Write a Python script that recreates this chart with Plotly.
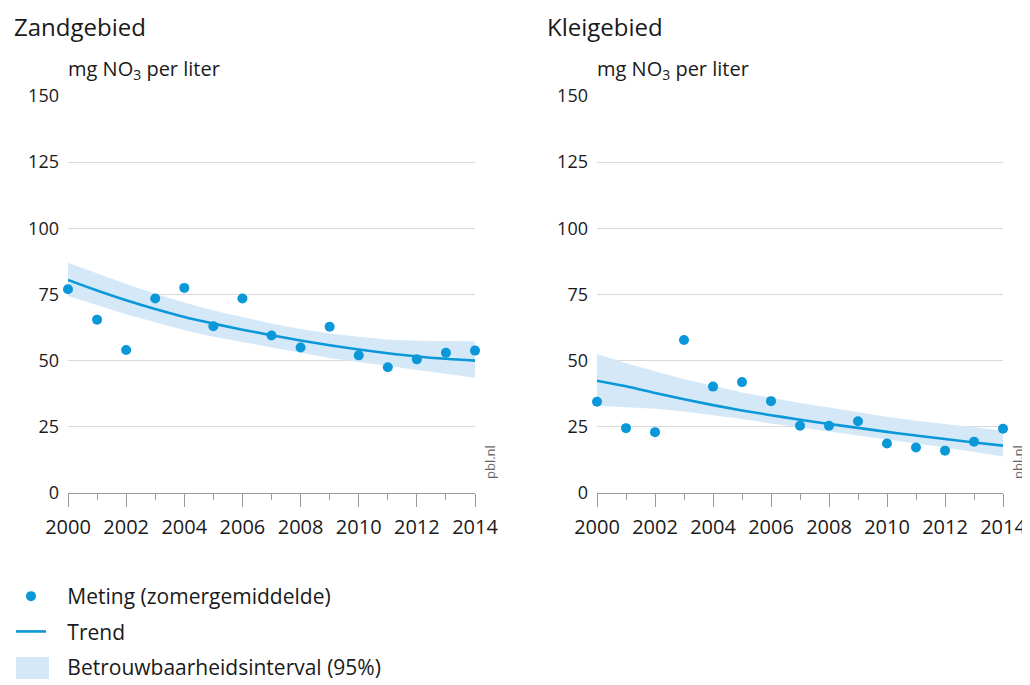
import plotly.graph_objects as go

years = list(range(2000, 2015))

# Zandgebied
zand_meting = [77, 65.5, 54, 73.5, 77.5, 63, 73.5, 59.5, 55, 62.8, 52, 47.5, 50.5, 53, 53.8]
zand_trend = [80.5, 76.5, 72.8, 69.5, 66.5, 64.0, 61.7, 59.6, 57.6, 55.8, 54.2, 52.8, 51.6, 50.7, 50.0]
zand_upper = [87, 83, 79, 75.3, 72, 69, 66.5, 64, 62, 60.3, 59, 58, 57.5, 57.3, 57.3]
zand_lower = [74.4, 71, 67.5, 64.5, 61.5, 59, 57, 55, 53, 51, 49.5, 48, 46.5, 45, 43.5]

# Kleigebied
klei_meting = [34.5, 24.5, 23, 57.8, 40.2, 41.9, 34.7, 25.4, 25.4, 27.1, 18.7, 17.2, 16, 19.4, 24.3]
klei_trend = [42.4, 40.3, 37.8, 35.4, 33.2, 31.2, 29.4, 27.7, 26.1, 24.6, 23.1, 21.7, 20.4, 19.1, 17.9]
klei_upper = [52.5, 49, 46, 43, 40.5, 38, 36, 34, 32.3, 30.5, 28.8, 27.3, 26, 24.8, 23.6]
klei_lower = [33, 32.5, 31.8, 30.8, 29.5, 28, 26.3, 24.8, 23.2, 21.6, 20.1, 18.6, 17.2, 15.5, 13.8]

panel_titles = ["Zandgebied", "Kleigebied"]
series_names = ["Meting (zomergemiddelde)", "Trend", "Betrouwbaarheidsinterval (95%)"]
y_ticks = [0, 25, 50, 75, 100, 125, 150]
x_ticks = [2000, 2002, 2004, 2006, 2008, 2010, 2012, 2014]

BLUE = "#0a98d8"
BAND = "#d5e8f8"
GRID = "#d9d9d9"
AXIS = "#9a9a9a"
TXT = "#1a1a1a"
FONT = "Open Sans"
PAD = "\u00a0\u00a0\u00a0"  # gap between legend symbol and text

# page body has an 8px margin, so the figure is 8px smaller and positions shifted
OFF = 8
W, H = 1030 - OFF, 685 - OFF


def px(x):
    return (x - OFF) / W


def py(y):
    return (H - (y - OFF)) / H


fig = go.Figure()

panels = [
    ("x", "y", zand_meting, zand_trend, zand_upper, zand_lower),
    ("x2", "y2", klei_meting, klei_trend, klei_upper, klei_lower),
]
for xa, ya, meting, trend, upper, lower in panels:
    fig.add_trace(go.Scatter(x=years, y=lower, xaxis=xa, yaxis=ya, mode="lines",
                             line=dict(width=0, color=BAND), showlegend=False,
                             hoverinfo="skip"))
    fig.add_trace(go.Scatter(x=years, y=upper, xaxis=xa, yaxis=ya, mode="lines",
                             line=dict(width=0, color=BAND), fill="tonexty", fillcolor=BAND,
                             name=series_names[2], showlegend=False))
    fig.add_trace(go.Scatter(x=years, y=trend, xaxis=xa, yaxis=ya, mode="lines",
                             line=dict(width=2.6, color=BLUE, shape="spline"),
                             name=PAD + series_names[1], showlegend=(xa == "x"),
                             legendgroup="trend", legendrank=2))
    fig.add_trace(go.Scatter(x=years, y=meting, xaxis=xa, yaxis=ya, mode="markers",
                             marker=dict(size=10, color=BLUE), cliponaxis=False,
                             name=PAD + series_names[0], showlegend=(xa == "x"),
                             legendgroup="meting", legendrank=1))

# legend-only entry for the confidence band (square swatch)
fig.add_trace(go.Scatter(x=[None], y=[None], mode="markers",
                         marker=dict(symbol="square", size=26, color=BAND),
                         name=PAD + series_names[2], showlegend=True,
                         legendgroup="band", legendrank=3))

dom_y = [py(493), py(96)]
dom_left = [px(68), px(475)]
dom_right = [px(597), px(1003)]

xaxis_common = dict(
    range=[2000, 2014], tickvals=x_ticks, ticks="outside", ticklen=13, tickwidth=1,
    tickcolor=AXIS, showline=True, linecolor=AXIS, linewidth=1, showgrid=False,
    zeroline=False, tickfont=dict(family=FONT, size=20, color=TXT),
    minor=dict(dtick=1, tick0=2000, ticks="outside", ticklen=6, tickcolor=AXIS, tickwidth=1, showgrid=False),
    ticklabelstandoff=3, fixedrange=True, automargin=False,
)
yaxis_common = dict(
    range=[0, 150], tickvals=y_ticks, showgrid=True, gridcolor=GRID, gridwidth=1,
    zeroline=False, showline=False, ticks="", domain=dom_y,
    tickfont=dict(family=FONT, size=18, color=TXT), ticklabelstandoff=8, fixedrange=True,
    automargin=False,
)

fig.update_layout(
    width=W, height=H,
    margin=dict(l=0, r=0, t=0, b=0, autoexpand=False),
    paper_bgcolor="white", plot_bgcolor="white",
    font=dict(family=FONT, color=TXT),
    xaxis=dict(domain=dom_left, anchor="y", **xaxis_common),
    yaxis=dict(anchor="x", **yaxis_common),
    xaxis2=dict(domain=dom_right, anchor="y2", **xaxis_common),
    yaxis2=dict(anchor="x2", **yaxis_common),
    legend=dict(
        x=px(11), y=py(576), xanchor="left", yanchor="top",
        orientation="v", traceorder="grouped", tracegroupgap=5,
        font=dict(family=FONT, size=21, color=TXT), bgcolor="rgba(0,0,0,0)",
        itemwidth=30, itemsizing="trace",
    ),
    showlegend=True,
)

# enlarge the band legend swatch to the reference's box size
fig.add_shape(type="rect", xref="paper", yref="paper",
              x0=px(16), x1=px(49), y0=py(679), y1=py(657),
              fillcolor=BAND, line=dict(width=0), layer="below")

# Panel titles and unit labels
for i, title in enumerate(panel_titles):
    fig.add_annotation(text=title, x=px([12, 545][i]), y=py(8), xref="paper", yref="paper",
                       xanchor="left", yanchor="top", showarrow=False,
                       font=dict(family=FONT, size=24, color=TXT))
    fig.add_annotation(text="mg NO<sub>3</sub> per liter", x=px([66, 595][i]), y=py(70),
                       xref="paper", yref="paper", xanchor="left", yanchor="middle",
                       showarrow=False, font=dict(family=FONT, size=20, color=TXT))
    fig.add_annotation(text="pbl.nl", x=px([490, 1018][i]), y=py(462), xref="paper", yref="paper",
                       xanchor="center", yanchor="middle", textangle=-90, showarrow=False,
                       font=dict(family=FONT, size=13, color="#666666"))

fig.write_html("out.html")
